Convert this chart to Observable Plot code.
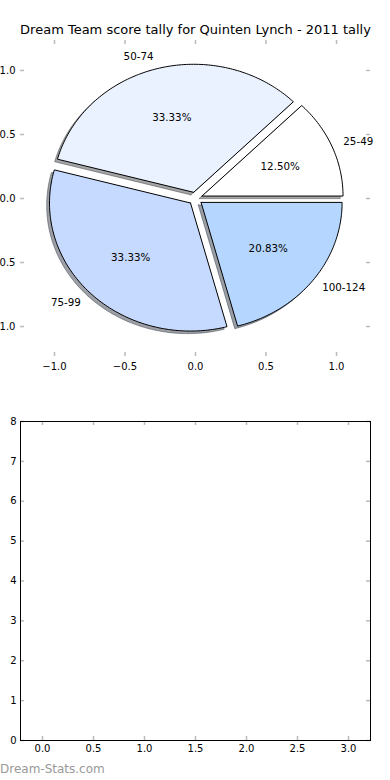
<!DOCTYPE html>
<html><head><meta charset="utf-8">
<script src="https://cdn.jsdelivr.net/npm/d3@7"></script>
<script src="https://cdn.jsdelivr.net/npm/@observablehq/plot@0.6"></script>
<style>
body{margin:0;background:#fff;}
#wrap{position:relative;width:390px;height:780px;overflow:hidden;font-family:"DejaVu Sans";}
#top{position:absolute;left:0;top:0;}
#bottom{position:absolute;left:0;top:390px;}
#footer{position:absolute;left:0;top:762px;font-size:12px;color:#999;font-family:"DejaVu Sans";}
</style></head><body>
<div id="wrap"><div id="top"></div><div id="bottom"></div><div id="footer">Dream-Stats.com</div></div>
<script>
const title = "Dream Team score tally for Quinten Lynch - 2011 tally";
const categories = ["25-49", "50-74", "75-99", "100-124"];
const counts = [3, 8, 8, 5];
const pieXTicks = [-1, -0.5, 0, 0.5, 1];
const pieYTicks = [-1, -0.5, 0, 0.5, 1];
const barXTicks = [0, 0.5, 1, 1.5, 2, 2.5, 3];
const barYTicks = [0, 1, 2, 3, 4, 5, 6, 7, 8];

const sliceColors = ["#ffffff", "#eaf2ff", "#c6d9ff", "#b4d6ff"];
const explode = 0.05, labelDist = 1.1, pctDist = 0.6, shadowOff = 0.02;
const tickColor = "#bbb";

const total = d3.sum(counts);
let cum = 0;
const slices = categories.map((c, i) => {
  const t1 = cum / total * 2 * Math.PI;
  cum += counts[i];
  const t2 = cum / total * 2 * Math.PI;
  const mid = (t1 + t2) / 2;
  const cx = explode * Math.cos(mid), cy = explode * Math.sin(mid);
  const pts = [{x: cx, y: cy}];
  const n = Math.max(8, Math.ceil((t2 - t1) / (Math.PI / 180)));
  for (let k = 0; k <= n; k++) {
    const t = t1 + (t2 - t1) * k / n;
    pts.push({x: cx + Math.cos(t), y: cy + Math.sin(t)});
  }
  pts.push({x: cx, y: cy});
  const col = d3.rgb(sliceColors[i]);
  return {
    label: c,
    pct: (counts[i] / total * 100).toFixed(2) + "%",
    pts,
    shadow: pts.map(p => ({x: p.x - shadowOff, y: p.y - shadowOff})),
    color: sliceColors[i],
    shadowColor: d3.rgb(col.r * 0.3, col.g * 0.3, col.b * 0.3).formatHex(),
    lx: cx + labelDist * Math.cos(mid), ly: cy + labelDist * Math.sin(mid),
    px: cx + pctDist * Math.cos(mid), py: cy + pctDist * Math.sin(mid)
  };
});

const fmt1 = d => (d < 0 ? "\u2212" : "") + Math.abs(d).toFixed(1);

function frameTicks(xt, yt, innerW, innerH, len) {
  return [
    Plot.tickX(xt, {x: d => d, insetTop: innerH - len, stroke: tickColor, strokeWidth: 1.5}),
    Plot.tickX(xt, {x: d => d, insetBottom: innerH - len, stroke: tickColor, strokeWidth: 1.5}),
    Plot.tickY(yt, {y: d => d, insetRight: innerW - len, stroke: tickColor, strokeWidth: 1.5}),
    Plot.tickY(yt, {y: d => d, insetLeft: innerW - len, stroke: tickColor, strokeWidth: 1.5})
  ];
}

const W = 390, H1 = 390;
const m1 = {top: 40, bottom: 34, left: 20, right: 20};
const topPlot = Plot.plot({
  width: W, height: H1,
  marginTop: m1.top, marginBottom: m1.bottom, marginLeft: m1.left, marginRight: m1.right,
  x: {domain: [-1.241, 1.241]},
  y: {domain: [-1.234, 1.234]},
  style: {fontFamily: "DejaVu Sans", fontSize: "10px", background: "transparent", overflow: "visible", color: "black"},
  marks: [
    ...slices.map(s => Plot.line(s.shadow, {x: "x", y: "y", fill: s.shadowColor, fillOpacity: 0.5, stroke: s.shadowColor, strokeOpacity: 0.5, strokeWidth: 1})),
    ...slices.map(s => Plot.line(s.pts, {x: "x", y: "y", fill: s.color, stroke: "black", strokeWidth: 1})),
    Plot.text(slices.filter(s => s.lx > 0), {x: "lx", y: "ly", text: "label", textAnchor: "start", dx: -2, fill: "black", fontSize: 10.3}),
    Plot.text(slices.filter(s => s.lx <= 0), {x: "lx", y: "ly", text: "label", textAnchor: "end", fill: "black", fontSize: 10.3}),
    Plot.text(slices, {x: "px", y: "py", text: "pct", fill: "black", fontSize: 10.3}),
    ...frameTicks(pieXTicks, pieYTicks, W - m1.left - m1.right, H1 - m1.top - m1.bottom, 4),
    Plot.axisX({ticks: pieXTicks, anchor: "bottom", tickSize: 0, tickPadding: 6, tickFormat: fmt1, label: null}),
    Plot.axisY({ticks: pieYTicks, anchor: "left", tickSize: 0, tickPadding: 5, tickFormat: fmt1, label: null}),
    Plot.text([title], {text: d => d, frameAnchor: "top", lineAnchor: "bottom", dy: -7, fontSize: 13, fill: "black"})
  ]
});
document.getElementById("top").appendChild(topPlot);

const H2 = 390;
const m2 = {top: 31, bottom: 40, left: 20, right: 20};
const bottomPlot = Plot.plot({
  width: W, height: H2,
  marginTop: m2.top, marginBottom: m2.bottom, marginLeft: m2.left, marginRight: m2.right,
  x: {domain: [-0.2157, 3.2157]},
  y: {domain: [0, 8]},
  style: {fontFamily: "DejaVu Sans", fontSize: "10px", background: "transparent", overflow: "visible", color: "black"},
  marks: [
    ...frameTicks(barXTicks, barYTicks, W - m2.left - m2.right, H2 - m2.top - m2.bottom, 4),
    Plot.frame({stroke: "black", strokeWidth: 1}),
    Plot.axisX({ticks: barXTicks, anchor: "bottom", tickSize: 0, tickPadding: 4, tickFormat: d => d.toFixed(1), label: null}),
    Plot.axisY({ticks: barYTicks, anchor: "left", tickSize: 0, tickPadding: 4, tickFormat: d => String(d), label: null})
  ]
});
document.getElementById("bottom").appendChild(bottomPlot);
</script>
</body></html>
